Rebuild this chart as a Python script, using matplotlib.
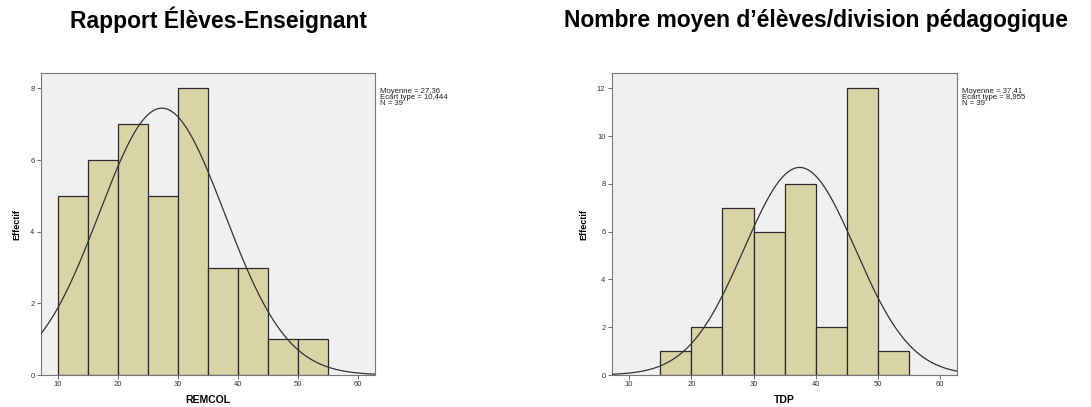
import numpy as np
import matplotlib
matplotlib.use("Agg")
import matplotlib.pyplot as plt

# Data
bin_edges = [10, 15, 20, 25, 30, 35, 40, 45, 50, 55]
remcol_counts = [5, 6, 7, 5, 8, 3, 3, 1, 1]
tdp_edges = [15, 20, 25, 30, 35, 40, 45, 50, 55]
tdp_counts = [1, 2, 7, 6, 8, 2, 12, 1]
remcol_mean, remcol_sd, remcol_n = 27.36, 10.444, 39
tdp_mean, tdp_sd, tdp_n = 37.41, 8.955, 39
xticks = [10, 20, 30, 40, 50, 60]
remcol_yticks = [0, 2, 4, 6, 8]
tdp_yticks = [0, 2, 4, 6, 8, 10, 12]
titles = ["Rapport Élèves-Enseignant", "Nombre moyen d’élèves/division pédagogique"]
xlabels = ["REMCOL", "TDP"]
stats_texts = ["Moyenne = 27,36\nEcart type = 10,444\nN = 39",
               "Moyenne = 37,41\nEcart type = 8,955\nN = 39"]

plt.rcParams['font.family'] = ['Liberation Sans', 'DejaVu Sans']

W, H = 1091, 407
fig = plt.figure(figsize=(W / 100, H / 100), dpi=100)

BAR = '#d9d4a6'
BG = '#f0f0f0'

def px_axes(x0, y0, x1, y1):
    return fig.add_axes([x0 / W, 1 - y1 / H, (x1 - x0) / W, (y1 - y0) / H])

specs = [
    dict(box=(40.7, 73, 375, 375), edges=bin_edges, counts=remcol_counts,
         mean=remcol_mean, sd=remcol_sd, n=remcol_n, xlim=(7.15, 62.9),
         ylim=(0, 8.43), yticks=remcol_yticks),
    dict(box=(611.7, 73, 957, 375), edges=tdp_edges, counts=tdp_counts,
         mean=tdp_mean, sd=tdp_sd, n=tdp_n, xlim=(7.2, 62.7),
         ylim=(0, 12.64), yticks=tdp_yticks),
]

title_x = [218, 816]

for i, s in enumerate(specs):
    ax = px_axes(*s['box'])
    ax.set_facecolor(BG)
    edges = np.array(s['edges'], dtype=float)
    widths = np.diff(edges)
    ax.bar(edges[:-1], s['counts'], width=widths, align='edge', color=BAR,
           edgecolor='#2a2a2a', linewidth=0.9, zorder=2)
    xs = np.linspace(s['xlim'][0], s['xlim'][1], 400)
    bw = widths[0]
    ys = s['n'] * bw * np.exp(-0.5 * ((xs - s['mean']) / s['sd']) ** 2) / (s['sd'] * np.sqrt(2 * np.pi))
    ax.plot(xs, ys, color='#333333', linewidth=0.9, zorder=3)
    ax.set_xlim(*s['xlim'])
    ax.set_ylim(*s['ylim'])
    ax.set_xticks(xticks)
    ax.set_yticks(s['yticks'])
    ax.tick_params(axis='both', labelsize=5.5, length=3, width=0.6,
                   colors='#555555', labelcolor='#333333', pad=1.5)
    for sp in ax.spines.values():
        sp.set_color('#777777')
        sp.set_linewidth(0.8)
    ax.set_xlabel(xlabels[i], fontsize=7.5, fontweight='bold', labelpad=5)
    ax.set_ylabel('Effectif', fontsize=6.5, fontweight='bold', labelpad=6)
    x0, y0, x1, y1 = s['box']
    fig.text((x1 + 5) / W, 1 - 88 / H, stats_texts[i], fontsize=5.6, va='top',
             ha='left', linespacing=0.8, color='#222222')
    fig.text(title_x[i] / W, 1 - 20 / H, titles[i], fontsize=16.5,
             fontweight='bold', ha='center', va='center')

fig.savefig('out.png', dpi=100)
